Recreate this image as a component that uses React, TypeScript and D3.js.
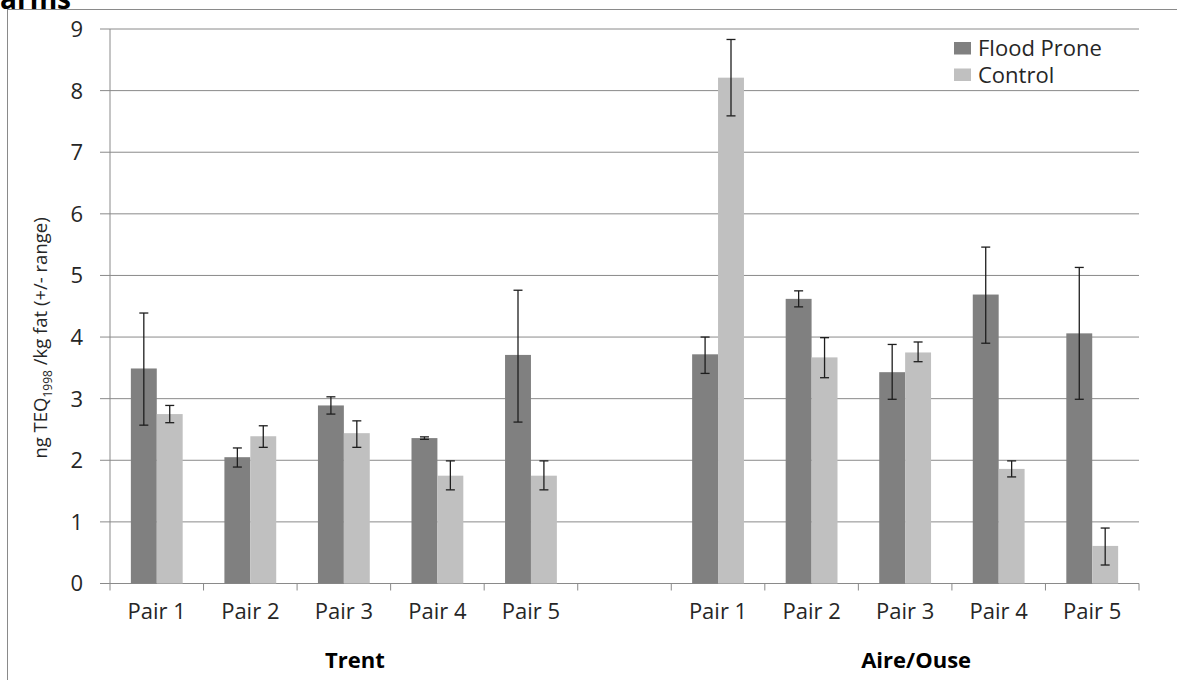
import React from "react";
import * as d3 from "d3";

// Category slots along the x axis: five Trent pairs, an empty spacer, five Aire/Ouse pairs
const categories = ["T1", "T2", "T3", "T4", "T5", "gap", "A1", "A2", "A3", "A4", "A5"];
const pairLabels = ["Pair 1", "Pair 2", "Pair 3", "Pair 4", "Pair 5", "", "Pair 1", "Pair 2", "Pair 3", "Pair 4", "Pair 5"];
const groups = [
  { name: "Trent", members: ["T1", "T2", "T3", "T4", "T5"] },
  { name: "Aire/Ouse", members: ["A1", "A2", "A3", "A4", "A5"] },
];

// Mean TEQ values with low/high of the range
const floodProne = [3.49, 2.05, 2.89, 2.36, 3.71, null, 3.72, 4.62, 3.43, 4.69, 4.06];
const floodLow = [2.57, 1.89, 2.75, 2.34, 2.62, null, 3.41, 4.49, 2.99, 3.9, 2.99];
const floodHigh = [4.39, 2.2, 3.03, 2.38, 4.76, null, 4.0, 4.75, 3.88, 5.46, 5.13];

const control = [2.75, 2.39, 2.44, 1.75, 1.75, null, 8.21, 3.67, 3.75, 1.86, 0.61];
const controlLow = [2.61, 2.21, 2.21, 1.52, 1.52, null, 7.59, 3.34, 3.6, 1.73, 0.3];
const controlHigh = [2.89, 2.56, 2.64, 1.99, 1.99, null, 8.83, 3.99, 3.92, 1.99, 0.9];

const yTicks = [0, 1, 2, 3, 4, 5, 6, 7, 8, 9];

const FONT = "'Open Sans', sans-serif";
const DARK = "#808080";
const LIGHT = "#c0c0c0";
const GRID = "#8a8a8a";
const INK = "#262626";

export default function App() {
  const width = 1177;
  const height = 680;
  const left = 110;
  const right = 1139;
  const top = 29;
  const bottom = 583.5;

  const x = d3.scaleBand<string>().domain(categories).range([left, right]).paddingInner(0).paddingOuter(0);
  const y = d3.scaleLinear().domain([0, 9]).range([bottom, top]);
  const bw = x.bandwidth();
  const barW = bw * 0.277;
  const cap = 4.5;

  const series = [
    { name: "Flood Prone", color: DARK, values: floodProne, low: floodLow, high: floodHigh, dx: -barW },
    { name: "Control", color: LIGHT, values: control, low: controlLow, high: controlHigh, dx: 0 },
  ];

  return (
    <svg
      width={width}
      height={height}
      style={{ position: "absolute", left: 0, top: 0, background: "#fff" }}
      fontFamily={FONT}
    >
      <rect x={0} y={0} width={width} height={height} fill="#fff" />
      {/* chart frame */}
      <rect x={7.5} y={9.5} width={1200} height={700} fill="#fff" stroke={GRID} strokeWidth={1} />
      {/* heading fragment above the chart frame */}
      <text x={0} y={9} fontSize={28} fontWeight="bold" fill="#000">arms</text>

      {/* gridlines and y ticks */}
      {yTicks.map((t) => (
        <g key={t}>
          <line x1={left - 10} x2={right} y1={y(t)} y2={y(t)} stroke={GRID} strokeWidth={1} />
          <text x={83} y={y(t)} dy="0.36em" textAnchor="end" fontSize={22} fill={INK}>
            {t}
          </text>
        </g>
      ))}
      {/* y axis */}
      <line x1={left} x2={left} y1={top} y2={bottom} stroke={GRID} strokeWidth={1} />

      {/* x ticks */}
      {d3.range(categories.length + 1).map((i) => {
        const xp = left + i * bw;
        return <line key={i} x1={xp} x2={xp} y1={bottom} y2={bottom + 7} stroke={GRID} strokeWidth={1} />;
      })}

      {/* bars */}
      {series.map((s) => (
        <g key={s.name}>
          {categories.map((c, i) => {
            const v = s.values[i];
            if (v == null) return null;
            const cx = (x(c) as number) + bw / 2 + s.dx;
            return <rect key={c} x={cx} y={y(v)} width={barW} height={bottom - y(v)} fill={s.color} />;
          })}
        </g>
      ))}

      {/* range error bars */}
      {series.map((s) => (
        <g key={s.name + "-err"} stroke="#1e1e1e" strokeWidth={1.3}>
          {categories.map((c, i) => {
            const lo = s.low[i];
            const hi = s.high[i];
            if (lo == null || hi == null) return null;
            const ex = (x(c) as number) + bw / 2 + s.dx + barW / 2;
            return (
              <g key={c}>
                <line x1={ex} x2={ex} y1={y(hi)} y2={y(lo)} />
                <line x1={ex - cap} x2={ex + cap} y1={y(hi)} y2={y(hi)} />
                <line x1={ex - cap} x2={ex + cap} y1={y(lo)} y2={y(lo)} />
              </g>
            );
          })}
        </g>
      ))}

      {/* category labels */}
      {categories.map((c, i) => (
        <text key={c} x={(x(c) as number) + bw / 2} y={619} textAnchor="middle" fontSize={22} fill={INK}>
          {pairLabels[i]}
        </text>
      ))}

      {/* group labels */}
      {groups.map((g) => {
        const xs = g.members.map((m) => (x(m) as number) + bw / 2);
        const cx = (d3.min(xs)! + d3.max(xs)!) / 2 + 11;
        return (
          <text key={g.name} x={cx} y={668} textAnchor="middle" fontSize={22} fontWeight="bold" fill="#000">
            {g.name}
          </text>
        );
      })}

      {/* y axis title */}
      <text transform={`translate(47, 338) rotate(-90)`} textAnchor="middle" fontSize={18.5} fill={INK}>
        <tspan>ng TEQ</tspan>
        <tspan fontSize={12} dy={5}>1998</tspan>
        <tspan dy={-5}> /kg fat (+/- range)</tspan>
      </text>

      {/* legend */}
      {series.map((s, i) => (
        <g key={s.name + "-legend"} transform={`translate(954, ${42 + i * 26.5})`}>
          <rect x={0} y={0} width={17} height={12.5} fill={s.color} />
          <text x={24} y={6.5} dy="0.36em" fontSize={22} fill={INK}>
            {s.name}
          </text>
        </g>
      ))}
    </svg>
  );
}
